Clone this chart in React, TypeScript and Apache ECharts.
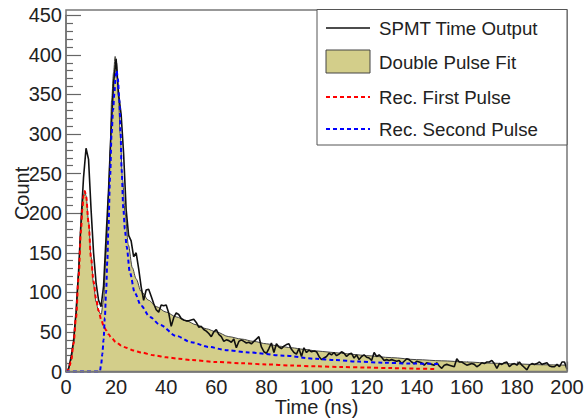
import React, { useEffect, useRef } from "react";
import * as echarts from "echarts";

const seriesNames = ["SPMT Time Output", "Double Pulse Fit", "Rec. First Pulse", "Rec. Second Pulse"];

// SPMT histogram counts, one value per ns from 0 to 200 ns
const dataCounts = [
  0, 3, 18, 38, 75, 125, 190, 245, 282, 268,
  205, 150, 112, 90, 82, 108, 170, 230, 305, 365,
  395, 350, 325, 275, 205, 172, 165, 145, 150, 130,
  107, 90, 103, 104, 95, 86, 78, 75, 84, 83,
  84, 74, 57, 68, 74, 72, 67, 65, 64, 64,
  65, 66, 62, 56, 57, 53, 51, 48, 44, 50,
  53, 47, 44, 38, 40, 39, 37, 41, 30, 38,
  40, 38, 36, 37, 35, 38, 41, 44, 31, 25,
  23, 29, 36, 24, 35, 31, 29, 32, 34, 35,
  28, 24, 22, 29, 19, 30, 24, 27, 25, 26,
  25, 19, 15, 17, 19, 23, 21, 24, 20, 22,
  25, 23, 19, 22, 23, 17, 21, 15, 19, 21,
  18, 17, 14, 24, 19, 21, 18, 14, 15, 14,
  15, 14, 13, 14, 10, 13, 16, 15, 12, 10,
  13, 12, 11, 8, 11, 10, 9, 8, 11, 7,
  4, 8, 9, 8, 7, 6, 16, 12, 12, 10,
  8, 9, 10, 9, 6, 8, 11, 10, 12, 12,
  14, 10, 4, 10, 9, 11, 12, 6, 9, 10,
  8, 12, 8, 5, 2, 8, 10, 9, 10, 12,
  9, 10, 11, 7, 6, 6, 9, 6, 12, 12,
  3,
];

const fitTime = [0, 1, 2, 3, 4, 5, 6, 7, 7.5, 8, 9, 10, 11, 12, 13, 14, 15, 16, 17, 17.6, 18.2, 19, 19.6, 20.2, 21, 21.6, 22.6, 23.6, 24.9, 26.5, 28, 30, 33, 36, 40, 44, 48, 52, 56, 60, 65, 70, 75, 80, 85, 90, 95, 100, 105, 110, 115, 120, 130, 140, 150, 160, 170, 180, 190, 200];
const fitValues = [0, 4, 14, 35, 70, 125, 185, 222, 228, 222, 190, 145, 110, 88, 76, 72, 90, 150, 225, 280, 343, 378, 398, 390, 345, 301, 242, 200, 160, 131, 117, 101, 90, 82, 75, 69, 64, 59, 54, 50, 44, 41, 38, 35, 32, 30, 28, 26, 24.5, 23, 21.5, 20, 17.5, 15, 13.5, 12, 10.5, 9.5, 8.5, 8];

const firstTime = [0, 1, 2, 3, 4, 5, 6, 6.5, 7, 7.5, 8, 9, 10, 11, 12, 13, 14, 15, 16, 17, 18, 20, 22, 24, 27, 30, 35, 40, 45, 50, 60, 70, 80, 90, 100, 110, 120, 130, 140, 148];
const firstValues = [0, 3, 12, 35, 68, 118, 178, 205, 222, 228, 222, 188, 143, 114, 92, 77, 66, 58, 52, 47, 43, 37, 33, 30, 26.5, 24, 20.5, 18, 16, 14.5, 12, 10.5, 9, 7.5, 6.5, 5.7, 5, 4.3, 3.6, 3];

const secondTime = [0, 13.5, 14, 14.5, 15, 15.5, 16, 16.5, 16.9, 17.6, 18.2, 18.8, 19.3, 19.8, 20.2, 20.7, 21.3, 21.8, 22.2, 22.9, 23.5, 24.2, 25.5, 27.5, 30, 33.5, 37.5, 44, 50, 57, 64, 73, 87, 100, 107, 117, 127, 138, 149];
const secondValues = [0, 0, 8, 22, 40, 68, 100, 140, 179, 246, 301, 330, 351, 372, 380, 370, 343, 301, 255, 205, 180, 158, 125, 99, 83, 69, 59, 45, 37, 31, 27, 24, 20, 16, 14.5, 12.5, 11, 10, 9.5];

const xTicks = { min: 0, max: 200, interval: 20 };
const yTicks = { min: 0, max: 450, interval: 50 };

const FONT = '"Liberation Sans", Arial, Helvetica, sans-serif';
const FILL = "#d3ce8a";
const AXIS = "#666";

const zip = (t: number[], v: number[]) => t.map((x, i) => [x, v[i]]);

export default function App() {
  const ref = useRef<HTMLDivElement>(null);
  useEffect(() => {
    if (!ref.current) return;
    const chart = echarts.init(ref.current, undefined, { renderer: "svg" });
    const lx1 = 326, lx2 = 370, tx = 379;
    const rows = [28, 62, 97, 129];
    const textStyle = (text: string, y: number) => ({
      type: "text",
      style: { text, x: tx, y, fill: "#222", fontSize: 18.7, fontFamily: FONT, verticalAlign: "middle", align: "left" },
      z: 101,
    });
    chart.setOption({
      animation: false,
      backgroundColor: "#fff",
      grid: { left: 66, right: 20, top: 15.3, bottom: 46.5, containLabel: false, outerBoundsMode: "none" },
      xAxis: {
        type: "value",
        min: xTicks.min,
        max: xTicks.max,
        interval: xTicks.interval,
        name: "Time (ns)",
        nameLocation: "middle",
        nameGap: 25,
        nameMoveOverlap: false,
        nameTextStyle: { fontSize: 20, fontFamily: FONT, color: "#222" },
        axisLine: { show: true, lineStyle: { color: AXIS, width: 1.5 } },
        axisTick: { show: true, inside: true, length: 10, lineStyle: { color: AXIS, width: 1.2 } },
        minorTick: { show: true, splitNumber: 4, length: 5, lineStyle: { color: AXIS, width: 1.2 } },
        splitLine: { show: false },
        axisLabel: { fontSize: 20, fontFamily: FONT, color: "#222", margin: 5 },
      },
      yAxis: {
        type: "value",
        min: yTicks.min,
        max: yTicks.max,
        interval: yTicks.interval,
        name: "Count",
        nameLocation: "middle",
        nameGap: 34,
        nameMoveOverlap: false,
        nameTextStyle: { fontSize: 20, fontFamily: FONT, color: "#222" },
        axisLine: { show: true, lineStyle: { color: AXIS, width: 1.5 } },
        axisTick: { show: true, inside: true, length: 15, lineStyle: { color: AXIS, width: 1.2 } },
        minorTick: { show: true, splitNumber: 5, length: 7, lineStyle: { color: AXIS, width: 1.2 } },
        splitLine: { show: false },
        axisLabel: { fontSize: 20, fontFamily: FONT, color: "#222", margin: 4 },
      },
      series: [
        {
          name: seriesNames[1],
          type: "line",
          data: zip(fitTime, fitValues),
          showSymbol: false,
          smooth: 0.3,
          smoothMonotone: "x",
          lineStyle: { color: "#444", width: 1 },
          areaStyle: { color: FILL, opacity: 1 },
          z: 1,
        },
        {
          name: seriesNames[0],
          type: "line",
          data: dataCounts.map((v, i) => [i, v]),
          showSymbol: false,
          lineStyle: { color: "#111", width: 1.6 },
          z: 2,
        },
        {
          name: seriesNames[2],
          type: "line",
          data: zip(firstTime, firstValues),
          showSymbol: false,
          smooth: 0.3,
          smoothMonotone: "x",
          lineStyle: { color: "#ff0000", width: 2, type: [4, 3] },
          z: 3,
        },
        {
          name: seriesNames[3],
          type: "line",
          data: zip(secondTime, secondValues),
          showSymbol: false,
          smooth: 0.3,
          smoothMonotone: "x",
          lineStyle: { color: "#0000ff", width: 2, type: [4, 3] },
          z: 4,
        },
      ],
      graphic: [
        { type: "rect", shape: { x: 66, y: 10, width: 501, height: 361.5 }, style: { fill: "none", stroke: "#777", lineWidth: 1.5 }, z: 50 },
        { type: "rect", shape: { x: 317, y: 9.5, width: 250, height: 135.5 }, style: { fill: "#fff", stroke: "#555", lineWidth: 1 }, z: 100 },
        { type: "line", shape: { x1: lx1, y1: rows[0], x2: lx2, y2: rows[0] }, style: { stroke: "#111", lineWidth: 1.5 }, z: 101 },
        { type: "rect", shape: { x: lx1, y: 50, width: lx2 - lx1, height: 23 }, style: { fill: FILL, stroke: "#444", lineWidth: 1 }, z: 101 },
        { type: "line", shape: { x1: lx1, y1: rows[2], x2: lx2, y2: rows[2] }, style: { stroke: "#ff0000", lineWidth: 2, lineDash: [4, 3] }, z: 101 },
        { type: "line", shape: { x1: lx1, y1: rows[3], x2: lx2, y2: rows[3] }, style: { stroke: "#0000ff", lineWidth: 2, lineDash: [4, 3] }, z: 101 },
        textStyle(seriesNames[0], rows[0]),
        textStyle(seriesNames[1], rows[1]),
        textStyle(seriesNames[2], rows[2]),
        textStyle(seriesNames[3], rows[3]),
      ],
    });
    return () => chart.dispose();
  }, []);
  return <div ref={ref} style={{ position: "fixed", left: 0, top: 0, width: 587, height: 418 }} />;
}
